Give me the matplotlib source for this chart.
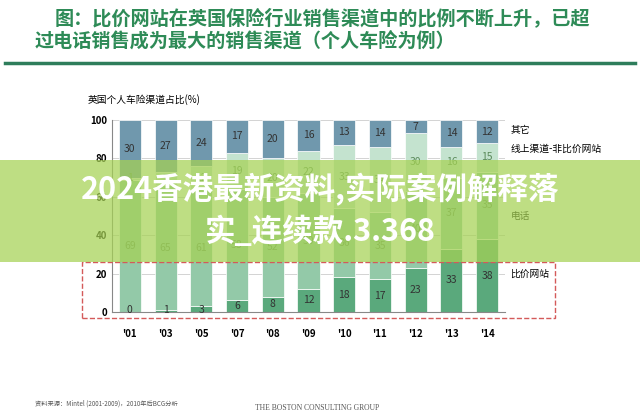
import matplotlib
matplotlib.use("Agg")
import matplotlib.pyplot as plt
from matplotlib.patches import Rectangle
import numpy as np

plt.rcParams["font.family"] = ["Noto Sans CJK SC", "DejaVu Sans"]

years = ["'01", "'03", "'05", "'07", "'08", "'09", "'10", "'11", "'12", "'13", "'14"]
compare = [0, 1, 3, 6, 8, 12, 18, 17, 23, 33, 38]
phone = [69, 65, 61, 58, 52, 50, 36, 35, 40, 37, 35]
online = [1, 7, 12, 19, 20, 22, 33, 34, 30, 16, 15]
other = [30, 27, 24, 17, 20, 16, 13, 14, 7, 14, 12]
series_names = ["比价网站", "电话", "线上渠道-非比价网站", "其它"]
colors = ["#5aa97c", "#93c9a8", "#c4e3cf", "#7098ad"]

W, H = 640, 419
fig = plt.figure(figsize=(W/100, H/100), dpi=100)
fig.patch.set_facecolor("white")

def fx(p): return p / W
def fy(p): return 1 - p / H

fig.text(fx(55), fy(18), "图：比价网站在英国保险行业销售渠道中的比例不断上升，已超",
         color="#2e8b57", fontsize=13.8, fontweight="bold", va="center")
fig.text(fx(35), fy(42), "过电话销售成为最大的销售渠道（个人车险为例）",
         color="#2e8b57", fontsize=13.8, fontweight="bold", va="center")
fig.add_artist(plt.Line2D([fx(5), fx(635)], [fy(63), fy(63)], color="#2e7d5b", lw=2.5))
fig.text(fx(88), fy(100), "英国个人车险渠道占比(%)", fontsize=7, va="center")

ax = fig.add_axes([fx(112), fy(312), fx(505-112), (312-120)/H])
x = np.arange(len(years))
bottom = np.zeros(len(years))
for name, vals, c in zip(series_names, [compare, phone, online, other], colors):
    v = np.array(vals, dtype=float)
    ax.bar(x, v, bottom=bottom, width=0.62, color=c, edgecolor="white", linewidth=0.5)
    for xi, b, val in zip(x, bottom, v):
        col = "#333333" if name in ("比价网站", "其它") else "#5a8a5a"
        ax.text(xi, b + val/2 if val > 3 else b + 1, f"{int(val)}", ha="center", va="center",
                fontsize=7.5, color=col)
    bottom += v
ax.set_ylim(0, 100)
ax.set_xlim(-0.5, len(years) - 0.5)
ax.set_yticks([0, 20, 40, 60, 80, 100])
ax.set_xticks(x)
ax.set_xticklabels(years, fontsize=7, fontweight="bold")
ax.tick_params(axis="y", labelsize=7, length=0)
ax.tick_params(axis="x", length=0, pad=12)
for lab in ax.get_yticklabels():
    lab.set_fontweight("bold")
for s in ["top", "right"]:
    ax.spines[s].set_visible(False)
ax.spines["left"].set_color("#888888")
ax.spines["bottom"].set_color("#888888")
ax.grid(axis="y", color="#cccccc", lw=0.6)
ax.set_axisbelow(True)

for name, yv in zip(series_names, [20, 50, 85, 95]):
    ax.text(len(years) - 0.35, yv, name, fontsize=7, va="center", clip_on=False)

fig.add_artist(Rectangle((fx(82), fy(318)), fx(555-82), (318-262)/H, fill=False,
                         ec="#d45a5a", ls="--", lw=1))

fig.add_artist(Rectangle((0, fy(262)), 1, (262-160)/H, color="#a6d254", alpha=0.72, lw=0))
fig.text(0.5, fy(190), "2024香港最新资料,实际案例解释落", ha="center", va="center",
         fontsize=22, fontweight="bold", color="white")
fig.text(0.5, fy(232), "实_连续款.3.368", ha="center", va="center",
         fontsize=22, fontweight="bold", color="white")

fig.text(fx(35), fy(406), "资料来源：Mintel (2001-2009)，2010年后BCG分析", fontsize=4.5, color="#555555")
fig.text(fx(255), fy(410), "THE BOSTON CONSULTING GROUP", fontsize=5.5, color="#555555",
         family="Liberation Serif")

fig.savefig("out.png", dpi=100)
